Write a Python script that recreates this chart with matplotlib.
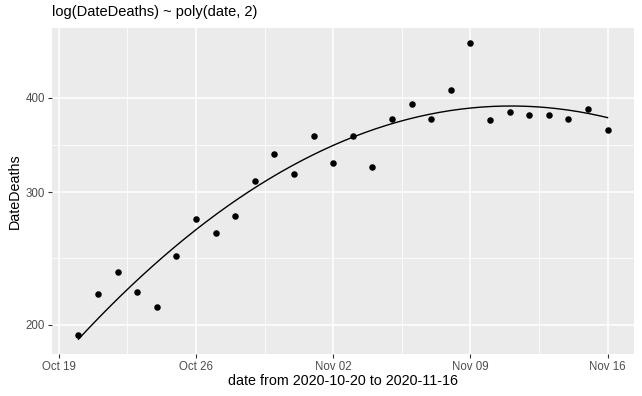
import numpy as np
import matplotlib
matplotlib.use("Agg")
import matplotlib.pyplot as plt
import matplotlib.dates as mdates
import pandas as pd

dates = pd.date_range("2020-10-20", "2020-11-16", freq="D")
deaths = [194, 220, 235, 221, 211, 247, 276, 265, 279, 310, 337, 317, 356, 328,
          356, 324, 375, 392, 375, 409, 473, 374, 383, 380, 380, 375, 387, 363]
y_major = [200, 300, 400]
x_ticks = ["2020-10-19", "2020-10-26", "2020-11-02", "2020-11-09", "2020-11-16"]
x_ticklabels = ["Oct 19", "Oct 26", "Nov 02", "Nov 09", "Nov 16"]

plt.rcParams['font.family'] = ['Liberation Sans', 'DejaVu Sans']

fig = plt.figure(figsize=(6.42, 3.96), dpi=100)
ax = fig.add_axes([52/642, 1-354/396, (634-52)/642, (354-28)/396])
ax.set_facecolor("#EBEBEB")
for s in ax.spines.values():
    s.set_visible(False)

xnum = mdates.date2num(dates)
t = xnum - xnum[0]
ly = np.log(deaths)
coef = np.polyfit(t, ly, 2)
tt = np.linspace(t[0], t[-1], 200)
fit = np.exp(np.polyval(coef, tt))

ax.set_yscale("log")
lo = min(np.log(min(deaths)), np.log(fit.min()))
hi = max(np.log(max(deaths)), np.log(fit.max()))
pad = 0.05*(hi-lo)
ax.set_ylim(np.exp(lo-pad), np.exp(hi+pad))
xr = xnum[-1]-xnum[0]
ax.set_xlim(xnum[0]-0.05*xr, xnum[-1]+0.05*xr)

# gridlines
xt = mdates.date2num(pd.to_datetime(x_ticks))
for i, v in enumerate(xt):
    ax.axvline(v, color="white", lw=1.1, zorder=1)
    if i < len(xt)-1:
        ax.axvline((v+xt[i+1])/2, color="white", lw=0.55, zorder=1)
for i, v in enumerate(y_major):
    ax.axhline(v, color="white", lw=1.1, zorder=1)
    if i < len(y_major)-1:
        ax.axhline(np.sqrt(v*y_major[i+1]), color="white", lw=0.55, zorder=1)

ax.scatter(xnum, deaths, s=22, color="black", zorder=3, linewidths=0)
ax.plot(xnum[0]+tt, fit, color="black", lw=1.0, zorder=2)

ax.set_yticks(y_major)
ax.set_yticklabels([str(v) for v in y_major])
ax.yaxis.set_minor_locator(matplotlib.ticker.NullLocator())
ax.set_xticks(xt)
ax.set_xticklabels(x_ticklabels)
ax.tick_params(axis="both", colors="#333333", labelcolor="#4D4D4D", labelsize=8.3,
               length=3, width=0.8, pad=2)

ax.set_xlabel("date from 2020-10-20 to 2020-11-16", fontsize=10.3, labelpad=1)
ax.set_ylabel("DateDeaths", fontsize=10.3, labelpad=3)
fig.text(52/642, 1-12/396, "log(DateDeaths) ~ poly(date, 2)", fontsize=10.5,
         ha="left", va="center")

fig.savefig("out.png", dpi=100)
